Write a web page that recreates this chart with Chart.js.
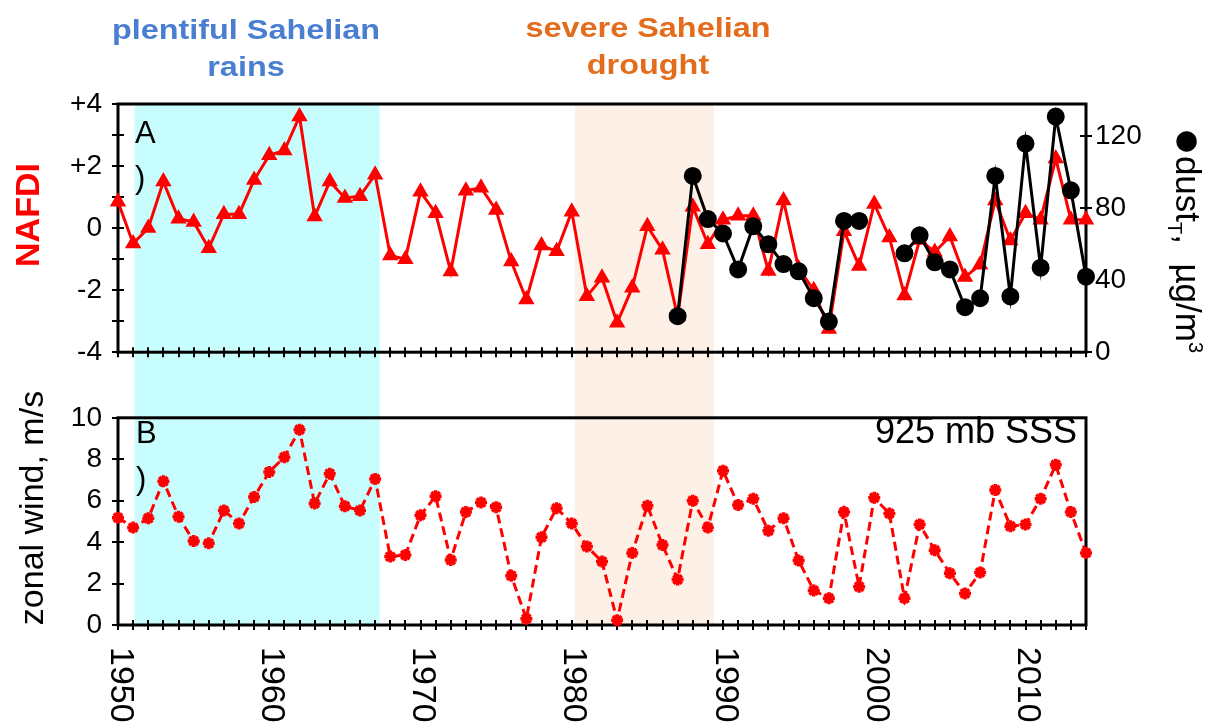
<!DOCTYPE html>
<html>
<head>
<meta charset="utf-8">
<script src="https://cdn.jsdelivr.net/npm/chart.js@4.4.0/dist/chart.umd.min.js"></script>
<style>
body { margin: 0; background: #fff; font-family: "Liberation Sans", Arial, sans-serif; }
#wrap { position: relative; width: 1215px; height: 722px; overflow: hidden; }
#topChart { position: absolute; left: 0; top: 0; }
#bottomChart { position: absolute; left: 0; top: 385px; }
.note { position: absolute; font-weight: bold; font-size: 27px; line-height: 37px; text-align: center; width: 320px; transform: scaleX(1.2); }
.tag { position: absolute; font-size: 31px; color: #000; }
.axisTitle { position: absolute; text-align: center; white-space: nowrap; }
</style>
</head>
<body>
<div id="wrap">
  <canvas id="topChart" width="1215" height="385"></canvas>
  <canvas id="bottomChart" width="1215" height="337"></canvas>

  <div class="note" style="left:86px; top:12px; color:#4a7ed0;">plentiful Sahelian<br>rains</div>
  <div class="note" style="left:488px; top:10px; color:#e36c1d;">severe Sahelian<br>drought</div>

  <div class="tag" style="left:135px; top:110px; line-height:45px;">A<br>)</div>
  <div class="tag" style="left:136px; top:410px; line-height:46px;">B<br>)</div>
  <div class="tag" style="right:138px; top:411px; font-size:36px; line-height:40px;">925 mb SSS</div>

  <div class="axisTitle" style="left:-73px; top:195px; width:200px; height:40px; line-height:40px; font-size:34px; font-weight:bold; color:#ff0000; transform:rotate(-90deg);">NAFDI</div>
  <div class="axisTitle" style="left:-119px; top:488px; width:300px; height:40px; line-height:40px; font-size:34px; color:#000; transform:rotate(-90deg);">zonal wind, m/s</div>
  <div class="axisTitle" style="left:1046px; top:218px; width:300px; height:44px; line-height:44px; font-size:35px; color:#000; transform:rotate(90deg);"><span style="font-size:48px; line-height:0; vertical-align:-3px;">●</span>dust<sub style="font-size:20px;">T</sub>,&nbsp; µg/m<sup style="font-size:20px;">3</sup></div>
</div>

<script>
// Years 1950-2014
const years = [1950,1951,1952,1953,1954,1955,1956,1957,1958,1959,
               1960,1961,1962,1963,1964,1965,1966,1967,1968,1969,
               1970,1971,1972,1973,1974,1975,1976,1977,1978,1979,
               1980,1981,1982,1983,1984,1985,1986,1987,1988,1989,
               1990,1991,1992,1993,1994,1995,1996,1997,1998,1999,
               2000,2001,2002,2003,2004,2005,2006,2007,2008,2009,
               2010,2011,2012,2013,2014];

// NAFDI index (panel A, left axis)
const nafdi = [0.85,-0.5,0.0,1.5,0.3,0.2,-0.65,0.45,0.45,1.55,
               2.35,2.5,3.6,0.37,1.5,0.97,1.03,1.72,-0.88,-1.0,
               1.17,0.48,-1.4,1.2,1.3,0.58,-1.08,-2.3,-0.56,-0.75,
               0.53,-2.2,-1.6,-3.05,-1.92,0.06,-0.7,-2.85,0.69,-0.52,
               0.27,0.4,0.4,-1.38,0.89,-1.3,-2.0,-3.25,-0.1,-1.22,
               0.78,-0.3,-2.17,-0.38,-0.77,-0.27,-1.58,-1.18,0.89,-0.4,
               0.48,0.27,2.24,0.27,0.27];

// dust_T, ug/m3 (panel A, right axis) - starts 1987, gap 2000-2001
const dust = [null,null,null,null,null,null,null,null,null,null,
              null,null,null,null,null,null,null,null,null,null,
              null,null,null,null,null,null,null,null,null,null,
              null,null,null,null,null,null,null,20,98,74,
              66,46,70,60,49,45,30,17,73,73,
              null,null,55,65,50,46,25,30,98,31,
              116,47,131,90,42];

// 925 mb zonal wind, m/s (panel B)
const wind = [5.18,4.7,5.15,6.94,5.23,4.05,3.94,5.53,4.9,6.18,
              7.39,8.1,9.42,5.86,7.3,5.73,5.53,7.05,3.3,3.38,
              5.3,6.21,3.14,5.45,5.91,5.68,2.38,0.3,4.24,5.64,
              4.9,3.79,3.06,0.23,3.48,5.76,3.86,2.2,6.0,4.7,
              7.45,5.79,6.09,4.55,5.15,3.11,1.67,1.29,5.45,1.85,
              6.14,5.38,1.29,4.85,3.61,2.5,1.52,2.53,6.52,4.77,
              4.85,6.09,7.73,5.45,3.48];

// Axis ticks
const yearLabels = [1950,1960,1970,1980,1990,2000,2010];
const nafdiTicks = [-4,-2,0,2,4];
const nafdiMarks = [-4,-3,-2,-1,0,1,2,3,4];
const dustTicks = [0,40,80,120];
const windTicks = [0,2,4,6,8,10];

// Shaded periods
const bands = [
  { from: 1951.1, to: 1967.3, color: '#c8fdfd' },
  { from: 1980.2, to: 1989.4, color: '#fdf0e6' }
];

const FONT = '"Liberation Sans", Arial, sans-serif';

// Background bands, box and crossing tick marks
const frame = {
  id: 'frame',
  beforeDraw(chart, args, opts) {
    const { ctx, chartArea: a, scales } = chart;
    const y0 = opts.extendUp ? 0 : a.top;
    const y1 = opts.extendDown ? chart.height : a.bottom;
    ctx.save();
    bands.forEach(b => {
      const x0 = scales.x.getPixelForValue(b.from);
      const x1 = scales.x.getPixelForValue(b.to);
      ctx.fillStyle = b.color;
      ctx.fillRect(x0, y0, x1 - x0, y1 - y0);
    });
    ctx.restore();
  },
  beforeDatasetsDraw(chart, args, opts) {
    const { ctx, chartArea: a, scales } = chart;
    ctx.save();
    ctx.strokeStyle = '#000';
    ctx.lineWidth = 3;
    ctx.strokeRect(a.left, a.top, a.right - a.left, a.bottom - a.top);
    ctx.lineWidth = 2;
    ctx.beginPath();
    years.forEach(yr => {
      const px = Math.round(scales.x.getPixelForValue(yr));
      ctx.moveTo(px, a.bottom - 5);
      ctx.lineTo(px, a.bottom + 5);
    });
    opts.marks.forEach(m => {
      const scale = scales[m.axis];
      const ax = m.axis === 'y2' ? a.right : a.left;
      m.values.forEach(v => {
        const py = Math.round(scale.getPixelForValue(v));
        ctx.moveTo(ax - 6, py);
        ctx.lineTo(ax + 6, py);
      });
    });
    ctx.stroke();
    ctx.restore();
  }
};

// Year labels, rotated clockwise
const yearText = {
  id: 'yearText',
  afterDraw(chart) {
    const { ctx, chartArea: a, scales } = chart;
    ctx.save();
    ctx.fillStyle = '#000';
    ctx.font = '34px ' + FONT;
    ctx.textAlign = 'left';
    ctx.textBaseline = 'middle';
    yearLabels.forEach(yr => {
      ctx.save();
      ctx.translate(scales.x.getPixelForValue(yr) + 2, a.bottom + 22);
      ctx.rotate(Math.PI / 2);
      ctx.fillText(String(yr), 0, 0);
      ctx.restore();
    });
    ctx.restore();
  }
};

const xAxis = (h) => ({
  type: 'linear',
  min: 1950,
  max: 2014,
  grid: { display: false, drawTicks: false },
  border: { display: false },
  ticks: { display: false },
  afterFit: s => { s.height = h; }
});

const tickFont = { family: FONT, size: 28 };

new Chart(document.getElementById('topChart'), {
  type: 'line',
  data: {
    datasets: [
      {
        label: 'dust',
        data: years.map((yr, i) => ({ x: yr, y: dust[i] })),
        yAxisID: 'y2',
        borderColor: '#000',
        backgroundColor: '#000',
        borderWidth: 3,
        pointStyle: 'circle',
        pointRadius: 7.5,
        spanGaps: false,
        clip: 14,
        order: 0
      },
      {
        label: 'NAFDI',
        data: years.map((yr, i) => ({ x: yr, y: nafdi[i] })),
        yAxisID: 'y',
        borderColor: '#ff0000',
        backgroundColor: '#ff0000',
        borderWidth: 3,
        pointStyle: 'triangle',
        pointRadius: 6.5,
        clip: 14,
        order: 1
      }
    ]
  },
  options: {
    responsive: false,
    animation: false,
    layout: { padding: { top: 104, left: 0, right: 0, bottom: 0 } },
    plugins: {
      legend: { display: false },
      tooltip: { enabled: false },
      frame: {
        extendDown: true,
        marks: [
          { axis: 'y', values: nafdiMarks },
          { axis: 'y2', values: dustTicks }
        ]
      }
    },
    scales: {
      x: xAxis(23),
      y: {
        position: 'left',
        min: -4,
        max: 4,
        grid: { display: false, drawTicks: false },
        border: { display: false },
        afterBuildTicks: s => { s.ticks = nafdiTicks.map(v => ({ value: v })); },
        ticks: {
          font: tickFont,
          color: '#000',
          padding: 16,
          callback: v => (v > 0 ? '+' + v : String(v))
        },
        afterFit: s => { s.width = 118; }
      },
      y2: {
        position: 'right',
        min: 0,
        max: 138,
        grid: { display: false, drawTicks: false },
        border: { display: false },
        afterBuildTicks: s => { s.ticks = dustTicks.map(v => ({ value: v })); },
        ticks: { font: tickFont, color: '#000', padding: 9 },
        afterFit: s => { s.width = 129; }
      }
    }
  },
  plugins: [frame]
});

new Chart(document.getElementById('bottomChart'), {
  type: 'line',
  data: {
    datasets: [
      {
        label: 'zonal wind',
        data: years.map((yr, i) => ({ x: yr, y: wind[i] })),
        borderColor: '#ff0000',
        backgroundColor: '#ff0000',
        borderWidth: 3,
        borderDash: [9, 5],
        pointStyle: 'star',
        pointRadius: 6,
        pointBorderWidth: 3.5,
        clip: 14
      }
    ]
  },
  options: {
    responsive: false,
    animation: false,
    layout: { padding: { top: 20, left: 0, right: 129, bottom: 0 } },
    plugins: {
      legend: { display: false },
      tooltip: { enabled: false },
      frame: {
        extendUp: true,
        marks: [{ axis: 'y', values: windTicks }]
      }
    },
    scales: {
      x: xAxis(97),
      y: {
        position: 'left',
        min: 0,
        max: 10,
        grid: { display: false, drawTicks: false },
        border: { display: false },
        afterBuildTicks: s => { s.ticks = windTicks.map(v => ({ value: v })); },
        ticks: { font: tickFont, color: '#000', padding: 16 },
        afterFit: s => { s.width = 118; }
      }
    }
  },
  plugins: [frame, yearText]
});
</script>
</body>
</html>
